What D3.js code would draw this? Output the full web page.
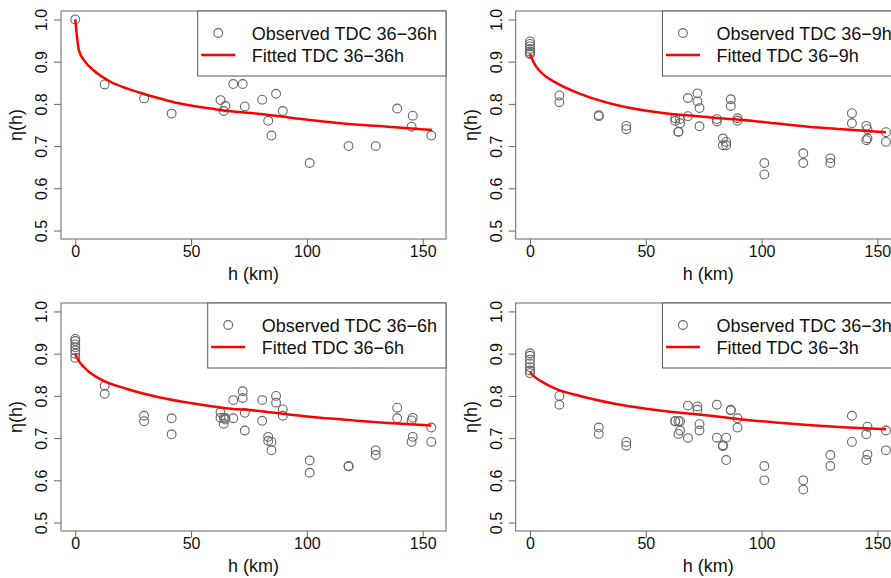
<!DOCTYPE html>
<html>
<head>
<meta charset="utf-8">
<script src="https://cdn.jsdelivr.net/npm/d3@7"></script>
<style>
body { margin: 0; background: #fff; }
text { font-family: "Liberation Sans", Arial, sans-serif; fill: #111; }
</style>
</head>
<body>
<svg id="chart" width="891" height="578"></svg>
<script>
// station-pair distances (km), shared by all four panels
var pairDist = [12.7, 29.7, 41.6, 62.7, 64.1, 64.8, 68.2, 72.3, 73.2, 80.7, 83.3,
  84.7, 86.7, 89.6, 101.2, 118.0, 129.7, 139.0, 145.2, 145.7, 153.7];

// observed TDC at distance 0
var zero36_36 = [1.0];
var zero36_9 = [0.948, 0.942, 0.936, 0.930, 0.924, 0.920, 0.918];
var zero36_6 = [0.935, 0.930, 0.922, 0.915, 0.908, 0.900, 0.890];
var zero36_3 = [0.901, 0.895, 0.886, 0.877, 0.868, 0.860, 0.854];

// observed TDC per pair (two directions for the lagged ones)
var obs36_36 = [0.846, 0.813, 0.777, 0.809, 0.783, 0.795, 0.847, 0.847, 0.794, 0.810, 0.760,
  0.725, 0.824, 0.783, 0.660, 0.700, 0.700, 0.789, 0.746, 0.772, 0.725];
var obs36_9a = [0.820, 0.773, 0.748, 0.766, 0.734, 0.764, 0.814, 0.825, 0.790, 0.764, 0.718,
  0.710, 0.811, 0.766, 0.660, 0.683, 0.671, 0.778, 0.748, 0.740, 0.733];
var obs36_9b = [0.804, 0.771, 0.740, 0.760, 0.734, 0.754, 0.771, 0.806, 0.747, 0.758, 0.702,
  0.702, 0.795, 0.760, 0.633, 0.660, 0.660, 0.754, 0.714, 0.718, 0.710];
var obs36_6a = [0.824, 0.753, 0.747, 0.761, 0.748, 0.748, 0.790, 0.811, 0.760, 0.790, 0.703,
  0.691, 0.800, 0.768, 0.647, 0.634, 0.671, 0.772, 0.742, 0.748, 0.725];
var obs36_6b = [0.805, 0.740, 0.709, 0.748, 0.734, 0.744, 0.747, 0.795, 0.718, 0.741, 0.693,
  0.671, 0.784, 0.753, 0.618, 0.633, 0.660, 0.747, 0.691, 0.703, 0.691];
var obs36_3a = [0.800, 0.725, 0.691, 0.740, 0.740, 0.740, 0.777, 0.775, 0.733, 0.779, 0.683,
  0.701, 0.767, 0.747, 0.634, 0.600, 0.660, 0.753, 0.709, 0.727, 0.718];
var obs36_3b = [0.779, 0.710, 0.682, 0.740, 0.710, 0.718, 0.700, 0.767, 0.718, 0.701, 0.681,
  0.648, 0.766, 0.725, 0.600, 0.578, 0.634, 0.691, 0.648, 0.661, 0.671];

// fitted curves
var fitH36_36 = [0, 1.6, 4, 8, 15, 22.5, 30, 37, 44, 51, 58.5, 66, 78, 92, 106, 121, 135, 154];
var fit36_36 = [1.0, 0.926, 0.902, 0.879, 0.853, 0.836, 0.823, 0.812, 0.802, 0.795, 0.789,
  0.783, 0.777, 0.768, 0.759, 0.751, 0.746, 0.738];
var fitH = [0, 2, 4.7, 11, 22, 36, 51, 65, 78, 92, 106, 120, 135, 153.7];
var fit36_9 = [0.918, 0.894, 0.875, 0.851, 0.823, 0.799, 0.783, 0.774, 0.768, 0.762, 0.754, 0.746, 0.740, 0.733];
var fit36_6 = [0.898, 0.879, 0.863, 0.839, 0.817, 0.797, 0.782, 0.771, 0.765, 0.756, 0.748, 0.742, 0.736, 0.730];
var fit36_3 = [0.856, 0.845, 0.835, 0.817, 0.799, 0.782, 0.769, 0.760, 0.753, 0.744, 0.737, 0.731, 0.726, 0.721];

var lagLabels = ["36h", "9h", "6h", "3h"];
var xTicks = [0, 50, 100, 150];
var yTicks = [0.5, 0.6, 0.7, 0.8, 0.9, 1.0];

var plotW = 385, plotH = 228;
var panelLeft = [61, 515.7], panelTop = [11, 303];

var svg = d3.select("#chart");

var makePoints = function (zero, a, b) {
  var pts = zero.map(function (v) { return [0, v]; });
  pairDist.forEach(function (d, i) {
    pts.push([d, a[i]]);
    if (b) pts.push([d, b[i]]);
  });
  return pts;
};

var panels = [
  { lag: lagLabels[0], pts: makePoints(zero36_36, obs36_36), fh: fitH36_36, fv: fit36_36 },
  { lag: lagLabels[1], pts: makePoints(zero36_9, obs36_9a, obs36_9b), fh: fitH, fv: fit36_9 },
  { lag: lagLabels[2], pts: makePoints(zero36_6, obs36_6a, obs36_6b), fh: fitH, fv: fit36_6 },
  { lag: lagLabels[3], pts: makePoints(zero36_3, obs36_3a, obs36_3b), fh: fitH, fv: fit36_3 }
];

var drawPanel = function (p, left, top) {
  var g = svg.append("g").attr("transform", "translate(" + left + "," + top + ")");
  // R style 4% padding on both axes
  var x = d3.scaleLinear().domain([-6.16, 160.06]).range([0, plotW]);
  var y = d3.scaleLinear().domain([0.48, 1.02]).range([plotH, 0]);

  var xAxis = d3.axisBottom(x).tickValues(xTicks).tickSize(7).tickFormat(d3.format("d"));
  var xa = g.append("g").attr("transform", "translate(0," + plotH + ")").call(xAxis);
  xa.select(".domain").remove();
  xa.selectAll("line").attr("stroke", "#666");
  xa.selectAll("text").attr("font-size", 16).attr("y", 0).attr("dy", 0)
    .attr("transform", "translate(0,18)").style("fill", "#111");

  var yAxis = d3.axisLeft(y).tickValues(yTicks).tickSize(7).tickFormat(d3.format(".1f"));
  var ya = g.append("g").call(yAxis);
  ya.select(".domain").remove();
  ya.selectAll("line").attr("stroke", "#666");
  ya.selectAll("text").attr("font-size", 16).attr("x", 0).attr("dy", 0)
    .attr("text-anchor", "middle")
    .attr("transform", "translate(-14,0) rotate(-90)").style("fill", "#111");

  g.append("rect").attr("width", plotW).attr("height", plotH)
    .attr("fill", "none").attr("stroke", "#666").attr("stroke-width", 1);

  g.append("text").attr("x", plotW / 2).attr("y", plotH + 41)
    .attr("text-anchor", "middle").attr("font-size", 18).text("h (km)");
  g.append("text").attr("transform", "translate(-39," + (plotH / 2) + ") rotate(-90)")
    .attr("text-anchor", "middle").attr("font-size", 18).text("\u03b7(h)");

  g.selectAll("circle.obs").data(p.pts).enter().append("circle")
    .attr("class", "obs")
    .attr("cx", function (d) { return x(d[0]); })
    .attr("cy", function (d) { return y(d[1]); })
    .attr("r", 4.4)
    .attr("fill", "none").attr("stroke", "#666").attr("stroke-width", 1.1);

  var line = d3.line()
    .x(function (d, i) { return x(p.fh[i]); })
    .y(function (d) { return y(d); })
    .curve(d3.curveMonotoneX);
  g.append("path").datum(p.fv).attr("d", line)
    .attr("fill", "none").attr("stroke", "#ff0000").attr("stroke-width", 2.5);

  // legend, top right
  var lg = g.append("g");
  var t1 = lg.append("text").attr("font-size", 18).attr("y", 28.5).text("Observed TDC 36\u2212" + p.lag);
  var t2 = lg.append("text").attr("font-size", 18).attr("y", 50.5).text("Fitted TDC 36\u2212" + p.lag);
  var tw = Math.max(t1.node().getComputedTextLength(), t2.node().getComputedTextLength());
  var textX = plotW - 9 - tw;
  var boxX = textX - 54;
  t1.attr("x", textX);
  t2.attr("x", textX);
  lg.insert("rect", "text").attr("x", boxX).attr("y", 0).attr("width", plotW - boxX).attr("height", 65)
    .attr("fill", "#fff").attr("stroke", "#555").attr("stroke-width", 1);
  lg.append("circle").attr("cx", boxX + 20.5).attr("cy", 22).attr("r", 4.4)
    .attr("fill", "none").attr("stroke", "#666").attr("stroke-width", 1.1);
  lg.append("line").attr("x1", boxX + 3.5).attr("x2", boxX + 37.5).attr("y1", 44).attr("y2", 44)
    .attr("stroke", "#ff0000").attr("stroke-width", 2.5);
};

panels.forEach(function (p, i) {
  drawPanel(p, panelLeft[i % 2], panelTop[Math.floor(i / 2)]);
});
</script>
</body>
</html>
